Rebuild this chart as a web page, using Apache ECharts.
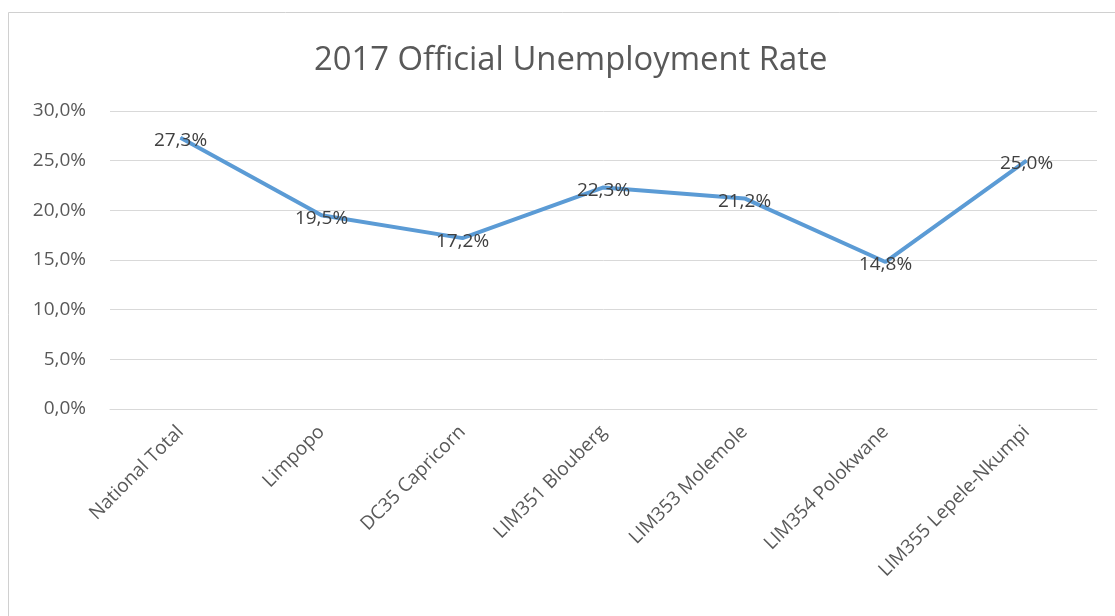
<!DOCTYPE html>
<html><head><meta charset="utf-8">
<script src="https://cdn.jsdelivr.net/npm/echarts@6/dist/echarts.min.js"></script>
<style>html,body{margin:0;padding:0;background:#fff}#c{width:1115px;height:616px}</style>
</head><body><div id="c"></div>
<script>
const categories = ['National Total','Limpopo','DC35 Capricorn','LIM351 Blouberg','LIM353 Molemole','LIM354 Polokwane','LIM355 Lepele-Nkumpi'];
const rates = [27.3, 19.5, 17.2, 22.3, 21.2, 14.8, 25.0];
const yTicks = [0, 5, 10, 15, 20, 25, 30];
const fmt = v => v.toFixed(1).replace('.', ',') + '%';
const chart = echarts.init(document.getElementById('c'));
chart.setOption({
  animation: false,
  backgroundColor: '#fff',
  graphic: [{type:'rect', shape:{x:8.5,y:12.5,width:1200,height:700}, style:{fill:'none', stroke:'#d0d0d0', lineWidth:1}, silent:true, z:-1}],
  title: {text:'2017 Official Unemployment Rate', left:309, top:39,
    textStyle:{fontFamily:'Open Sans', fontSize:32.8, fontWeight:'normal', color:'#595959'}},
  grid: {left:110, right:18, top:111, bottom:207},
  xAxis: {type:'category', data:categories, boundaryGap:true,
    axisLine:{show:true, lineStyle:{color:'#d9d9d9'}}, axisTick:{show:false},
    axisLabel:{rotate:45, interval:0, margin:20, fontFamily:'Open Sans', fontSize:19, color:'#595959'}},
  yAxis: {type:'value', min:yTicks[0], max:yTicks[yTicks.length-1], interval:5,
    axisLine:{show:false}, axisTick:{show:false},
    splitLine:{lineStyle:{color:'#d9d9d9'}},
    axisLabel:{formatter:v=>fmt(v), margin:24, fontFamily:'Open Sans', fontSize:19, color:'#595959'}},
  series: [{type:'line', data:rates, showSymbol:true, symbol:'circle', symbolSize:1,
    itemStyle:{color:'#5B9BD5'},
    lineStyle:{color:'#5B9BD5', width:4},
    label:{show:true, position:'inside', offset:[0,3], formatter:p=>fmt(p.value), fontFamily:'Open Sans', fontSize:19, color:'#404040'}}]
});
</script></body></html>
